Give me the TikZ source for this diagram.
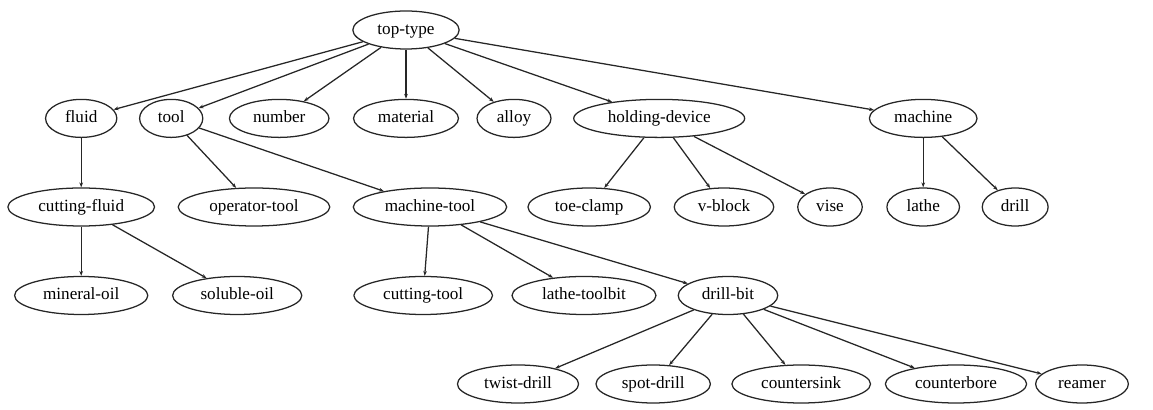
\documentclass[tikz,border=0pt]{standalone}
\usepackage{fontspec}
\setmainfont{Liberation Serif}
\usetikzlibrary{arrows.meta}
\usetikzlibrary{shapes.geometric}
\tikzset{k/.style={draw,ellipse,inner xsep=0.225cm,inner ysep=0pt,minimum height=0.95cm,text height=1.6ex,text depth=.3ex,font=\fontsize{12.2}{12.2}\selectfont}}
\tikzset{>={Stealth[length=3.5pt,width=2.6pt]}}

\begin{document}
\begin{tikzpicture}[line join=round,line width=0.9pt,draw=black!85]
            \useasboundingbox (0,0) rectangle (28.825,10.25);
            % root
            \node[k] (top) at (10.15,9.5) {top-type};
            % second rank
            \node[k] (fluid) at (2.03,7.29) {fluid}
              edge [<-] (top);
            \node[k] (tool) at (4.28,7.29) {tool}
              edge [<-] (top);
            \node[k] (number) at (6.98,7.29) {number}
              edge [<-] (top);
            \node[k] (material) at (10.15,7.29) {material}
              edge [<-] (top);
            \node[k] (alloy) at (12.85,7.29) {alloy}
              edge [<-] (top);
            \node[k] (holding) at (16.48,7.29) {holding-device}
              edge [<-] (top);
            \node[k] (machine) at (23.08,7.29) {machine}
              edge [<-] (top);
            % third rank
            \node[k] (cfluid) at (2.03,5.075) {cutting-fluid}
              edge [<-] (fluid);
            \node[k] (optool) at (6.35,5.075) {operator-tool}
              edge [<-] (tool);
            \node[k] (mtool) at (10.75,5.075) {machine-tool}
              edge [<-] (tool);
            \node[k] (toeclamp) at (14.73,5.075) {toe-clamp}
              edge [<-] (holding);
            \node[k] (vblock) at (18.10,5.075) {v-block}
              edge [<-] (holding);
            \node[k] (vise) at (20.75,5.075) {vise}
              edge [<-] (holding);
            \node[k] (lathe) at (23.08,5.075) {lathe}
              edge [<-] (machine);
            \node[k] (drill) at (25.38,5.075) {drill}
              edge [<-] (machine);
            % fourth rank
            \node[k] (mineral) at (2.03,2.8625) {mineral-oil}
              edge [<-] (cfluid);
            \node[k] (soluble) at (5.93,2.8625) {soluble-oil}
              edge [<-] (cfluid);
            \node[k] (ctool) at (10.58,2.8625) {cutting-tool}
              edge [<-] (mtool);
            \node[k] (toolbit) at (14.60,2.8625) {lathe-toolbit}
              edge [<-] (mtool);
            \node[k] (dbit) at (18.20,2.8625) {drill-bit}
              edge [<-] (mtool);
            % fifth rank
            \node[k] (twist) at (12.95,0.65) {twist-drill}
              edge [<-] (dbit);
            \node[k] (spot) at (16.33,0.65) {spot-drill}
              edge [<-] (dbit);
            \node[k] (csink) at (20.03,0.65) {countersink}
              edge [<-] (dbit);
            \node[k] (cbore) at (23.90,0.65) {counterbore}
              edge [<-] (dbit);
            \node[k] (reamer) at (27.05,0.65) {reamer}
              edge [<-] (dbit);
\end{tikzpicture}
\end{document}
